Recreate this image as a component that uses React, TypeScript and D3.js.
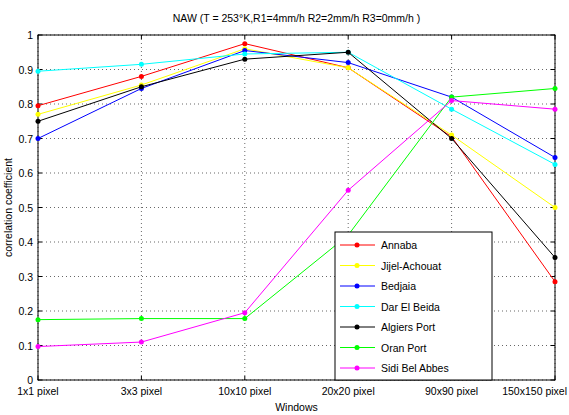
import React from 'react';
import * as d3 from 'd3';

const windows = ['1x1 pixel', '3x3 pixel', '10x10 pixel', '20x20 pixel', '90x90 pixel', '150x150 pixel'];
const stations = ['Annaba', 'Jijel-Achouat', 'Bedjaia', 'Dar El Beida', 'Algiers Port', 'Oran Port', 'Sidi Bel Abbes'];
const colors = ['#ff0000', '#ffff00', '#0000ff', '#00ffff', '#000000', '#00ff00', '#ff00ff'];
const values = [
  [0.795, 0.88, 0.975, 0.905, 0.705, 0.285],
  [0.77, 0.855, 0.96, 0.905, 0.71, 0.5],
  [0.7, 0.845, 0.955, 0.92, 0.82, 0.645],
  [0.895, 0.915, 0.945, 0.95, 0.785, 0.625],
  [0.75, 0.85, 0.93, 0.95, 0.7, 0.355],
  [0.175, 0.178, 0.178, 0.42, 0.82, 0.845],
  [0.097, 0.11, 0.195, 0.55, 0.81, 0.785],
];
const yTicks = d3.range(0, 1.01, 0.1);

const App: React.FC = () => {
  const m = { left: 38, right: 14, top: 35, bottom: 35 };
  const W = 569, H = 415;
  const x = d3.scalePoint<string>().domain(windows).range([m.left, W - m.right]);
  const y = d3.scaleLinear().domain([0, 1]).range([H - m.bottom, m.top]);
  const line = d3.line<number>().x((_, i) => x(windows[i])!).y(d => y(d));
  const font = 'Arial, Liberation Sans, sans-serif';
  const lx = 335, ly = 232, lw = 157, lh = 148;
  return (
    <svg width={W} height={H} style={{ position: 'absolute', left: 0, top: 0, background: '#fff' }} fontFamily={font} fontSize={10.5}>
      <rect x={m.left} y={m.top} width={W - m.left - m.right} height={H - m.top - m.bottom} fill="#fff" />
      {yTicks.map(t => (
        <line key={'gy' + t} x1={m.left} x2={W - m.right} y1={y(t)} y2={y(t)} stroke="#000" strokeDasharray="1,3" strokeWidth={0.6} />
      ))}
      {windows.map(w => (
        <line key={'gx' + w} x1={x(w)} x2={x(w)} y1={m.top} y2={H - m.bottom} stroke="#000" strokeDasharray="1,3" strokeWidth={0.6} />
      ))}
      <rect x={m.left} y={m.top} width={W - m.left - m.right} height={H - m.top - m.bottom} fill="none" stroke="#000" />
      {yTicks.map(t => (
        <g key={'ty' + t}>
          <line x1={m.left} x2={m.left + 4} y1={y(t)} y2={y(t)} stroke="#000" />
          <line x1={W - m.right} x2={W - m.right - 4} y1={y(t)} y2={y(t)} stroke="#000" />
          <text x={m.left - 5} y={y(t) + 4} textAnchor="end">{d3.format('~g')(+t.toFixed(1))}</text>
        </g>
      ))}
      {windows.map((w, i) => (
        <g key={'tx' + w}>
          <line x1={x(w)} x2={x(w)} y1={H - m.bottom} y2={H - m.bottom - 4} stroke="#000" />
          <line x1={x(w)} x2={x(w)} y1={m.top} y2={m.top + 4} stroke="#000" />
          <text x={i === windows.length - 1 ? W - 2 : x(w)} y={H - m.bottom + 15} textAnchor={i === windows.length - 1 ? 'end' : 'middle'}>{w}</text>
        </g>
      ))}
      <text x={(m.left + W - m.right) / 2} y={H - 4} textAnchor="middle">Windows</text>
      <text transform={`translate(12,${(m.top + H - m.bottom) / 2}) rotate(-90)`} textAnchor="middle">correlation coefficient</text>
      <text x={(m.left + W - m.right) / 2} y={22} textAnchor="middle">NAW (T = 253°K,R1=4mm/h  R2=2mm/h  R3=0mm/h )</text>
      {values.map((v, k) => (
        <g key={stations[k]}>
          <path d={line(v)!} fill="none" stroke={colors[k]} strokeWidth={1} />
          {v.map((d, i) => <circle key={i} cx={x(windows[i])} cy={y(d)} r={2.5} fill={colors[k]} />)}
        </g>
      ))}
      <rect x={lx} y={ly} width={lw} height={lh} fill="#fff" stroke="#000" />
      {stations.map((s, k) => {
        const yy = ly + 13 + k * 20.5;
        return (
          <g key={'l' + s}>
            <line x1={lx + 5} x2={lx + 40} y1={yy} y2={yy} stroke={colors[k]} />
            <circle cx={lx + 22} cy={yy} r={2.5} fill={colors[k]} />
            <text x={lx + 46} y={yy + 4}>{s}</text>
          </g>
        );
      })}
    </svg>
  );
};

export default App;
